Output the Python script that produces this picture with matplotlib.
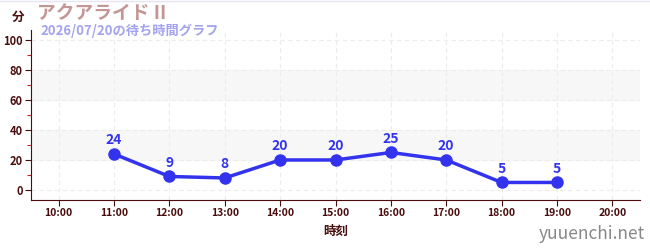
import matplotlib
matplotlib.use("Agg")
import matplotlib.pyplot as plt
from matplotlib.ticker import MultipleLocator

plt.rcParams['font.family'] = ['Noto Sans CJK JP', 'DejaVu Sans']

hours = [11, 12, 13, 14, 15, 16, 17, 18, 19]
waits = [24, 9, 8, 20, 20, 25, 20, 5, 5]
tick_hours = list(range(10, 21))
tick_labels = [f"{h}:00" for h in tick_hours]
title = "アクアライド II"
subtitle = "2026/07/20の待ち時間グラフ"

fig = plt.figure(figsize=(6.5, 2.5), dpi=100)
ax = fig.add_axes([31/650, 50/250, 609/650, 170/250])

ax.set_xlim(9.5, 20.5)
ax.set_ylim(-6.7, 106.7)

for lo, hi in [(20, 40), (60, 80)]:
    ax.axhspan(lo, hi, color='#f7f7f7', zorder=0)

ax.set_xticks(tick_hours)
ax.set_xticklabels(tick_labels)
ax.yaxis.set_major_locator(MultipleLocator(20))
ax.yaxis.set_minor_locator(MultipleLocator(10))
ax.grid(True, which='major', color='#ececec', linestyle=(0, (4, 3)), linewidth=0.8, zorder=1)

dark = '#4a0d0d'
for s in ['top', 'right']:
    ax.spines[s].set_visible(False)
ax.spines['left'].set_color(dark)
ax.spines['bottom'].set_color(dark)
ax.tick_params(axis='both', which='major', colors=dark, labelsize=7.5, length=4, width=0.8, pad=2)
ax.tick_params(axis='y', which='minor', colors='#cc2222', length=3, width=0.8)
for lab in ax.get_xticklabels() + ax.get_yticklabels():
    lab.set_fontweight('bold')
    lab.set_color(dark)
for lab in ax.get_yticklabels():
    lab.set_fontsize(8)

ax.plot(hours, waits, color='#3333ee', linewidth=2.5, marker='o', markersize=8, zorder=3)
for h, w in zip(hours, waits):
    ax.annotate(str(w), (h, w), xytext=(0, 5), textcoords='offset points',
                ha='center', va='bottom', color='#3333ee', fontsize=10, fontweight='bold')

ax.set_xlabel('時刻', color=dark, fontsize=9, fontweight='bold', labelpad=5)

fig.text(18/650, 1 - 17/250, '分', color=dark, fontsize=9, fontweight='bold', ha='center', va='center')
fig.text(37/650, 1 - 14/250, title, color='#c49595', fontsize=13.5, fontweight='bold', ha='left', va='center')
fig.text(40/650, 1 - 31/250, subtitle, color='#a3a3ee', fontsize=9.5, fontweight='bold', ha='left', va='center')
fig.text(645/650, 1 - 234/250, 'yuuenchi.net', color='#888888', fontsize=12.5, ha='right', va='center')
fig.add_artist(plt.Line2D([0, 1], [0.998, 0.998], color='#e4e4f4', linewidth=1, transform=fig.transFigure))

fig.savefig('out.png', dpi=100)
